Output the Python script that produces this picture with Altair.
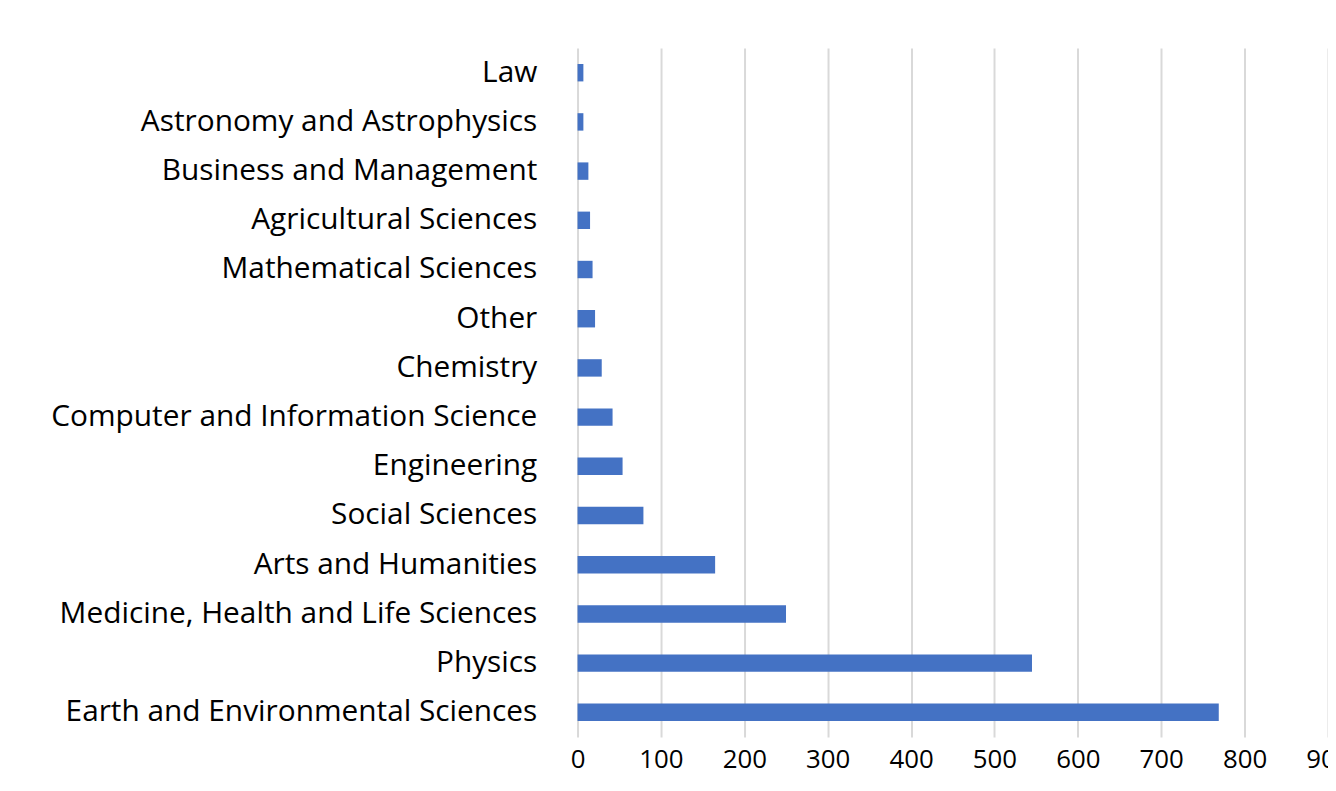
import altair as alt
import pandas as pd

subjects = [
    "Law",
    "Astronomy and Astrophysics",
    "Business and Management",
    "Agricultural Sciences",
    "Mathematical Sciences",
    "Other",
    "Chemistry",
    "Computer and Information Science",
    "Engineering",
    "Social Sciences",
    "Arts and Humanities",
    "Medicine, Health and Life Sciences",
    "Physics",
    "Earth and Environmental Sciences",
]
counts = [7, 7, 13, 15, 18, 21, 29, 42, 54, 79, 165, 250, 545, 769]
x_ticks = [0, 100, 200, 300, 400, 500, 600, 700, 800, 900]

df = pd.DataFrame({"subject": subjects, "count": counts})

chart = (
    alt.Chart(df)
    .mark_bar(color="#4472C4")
    .encode(
        x=alt.X(
            "count:Q",
            scale=alt.Scale(domain=[0, 900], nice=False, zero=True),
            axis=alt.Axis(
                values=x_ticks,
                title=None,
                ticks=False,
                domain=False,
                grid=True,
                gridColor="#D9D9D9",
                gridWidth=2,
                labelFont="Open Sans",
                labelFontSize=26,
                labelColor="#000000",
                labelPadding=10,
                labelFlush=False,
            ),
        ),
        y=alt.Y(
            "subject:N",
            sort=subjects,
            scale=alt.Scale(paddingInner=0.646, paddingOuter=0.323),
            axis=alt.Axis(
                title=None,
                ticks=False,
                domain=False,
                labelFont="Open Sans",
                labelFontSize=30,
                labelColor="#000000",
                labelPadding=41,
                labelLimit=0,
            ),
        ),
    )
    .properties(
        width=755,
        height=693,
        autosize=alt.AutoSizeParams(type="none"),
        padding={"left": 573, "top": 38, "right": 0, "bottom": 44},
    )
    .configure(background="#ffffff", view=alt.ViewConfig(strokeWidth=0, stroke="transparent"))
)

chart.save("out.html", embed_options={"renderer": "svg", "actions": False})
